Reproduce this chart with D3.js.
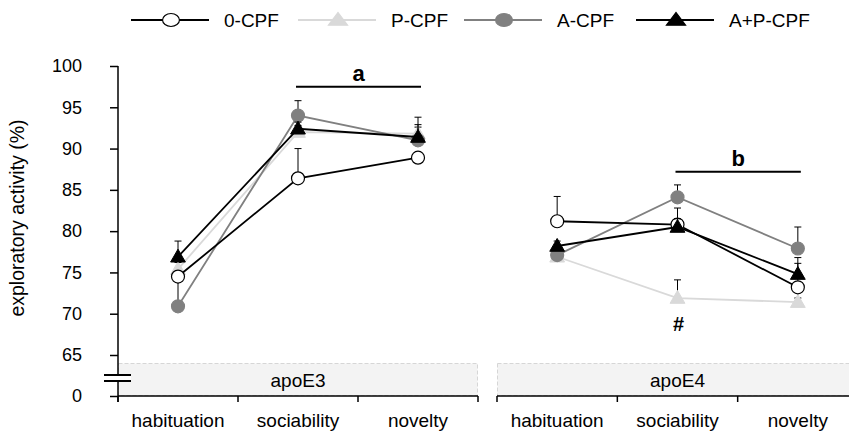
<!DOCTYPE html>
<html>
<head>
<meta charset="utf-8">
<script src="https://cdnjs.cloudflare.com/ajax/libs/d3/7.8.5/d3.min.js"></script>
<style>
  body { margin: 0; background: #fff; }
  svg { display: block; font-family: "Liberation Sans", Arial, sans-serif; }
</style>
</head>
<body>
<svg id="chart" width="849" height="434"></svg>
<script>
const WIDTH = 849, HEIGHT = 434;

// ---- data ----
var phases = ["habituation", "sociability", "novelty"];
var genotypes = ["apoE3", "apoE4"];
var groups = ["0-CPF", "P-CPF", "A-CPF", "A+P-CPF"];
var yTicks = [65, 70, 75, 80, 85, 90, 95, 100];

// mean values per group, [apoE3 x 3 phases, apoE4 x 3 phases]
var meanZero = [[74.5, 86.4, 88.9], [81.2, 80.8, 73.2]];
var meanP    = [[75.4, 92.0, 91.8], [76.9, 71.9, 71.4]];
var meanA    = [[70.9, 94.0, 91.0], [77.1, 84.1, 77.9]];
var meanAP   = [[76.9, 92.4, 91.4], [78.2, 80.5, 74.8]];

// upper error (SEM)
var semZero = [[0.5, 3.6, 0.6], [3.0, 2.0, 2.9]];
var semP    = [[0.8, 0.8, 0.8], [0.5, 2.2, 0.5]];
var semA    = [[3.2, 1.8, 1.9], [0.6, 1.5, 2.6]];
var semAP   = [[1.9, 0.8, 2.4], [0.6, 1.0, 2.0]];

var sigLetters = ["a", "b"];

// ---- styles ----
var styles = {
  "0-CPF":   { line: "#000000", fill: "#ffffff", stroke: "#000000", shape: "circle" },
  "P-CPF":   { line: "#d9d9d9", fill: "#d9d9d9", stroke: "#d9d9d9", shape: "triangle" },
  "A-CPF":   { line: "#808080", fill: "#808080", stroke: "#808080", shape: "circle" },
  "A+P-CPF": { line: "#000000", fill: "#000000", stroke: "#000000", shape: "triangle" }
};
var means = { "0-CPF": meanZero, "P-CPF": meanP, "A-CPF": meanA, "A+P-CPF": meanAP };
var sems  = { "0-CPF": semZero,  "P-CPF": semP,  "A-CPF": semA,  "A+P-CPF": semAP };
var drawOrder = ["P-CPF", "A-CPF", "0-CPF", "A+P-CPF"];

var svg = d3.select("#chart");

// ---- scales ----
var y = d3.scaleLinear().domain([65, 100]).range([355, 66]);
var yLow = d3.scaleLinear().domain([0, 1]).range([396, 386]);
var xPanels = [
  d3.scaleBand().domain(phases).range([118, 478]),
  d3.scaleBand().domain(phases).range([497, 858])
];
function cx(p, phase) { return xPanels[p](phase) + xPanels[p].bandwidth() / 2; }

// ---- genotype bands ----
genotypes.forEach(function(g, p) {
  var r = xPanels[p].range();
  svg.append("rect")
    .attr("x", r[0] + 0.5).attr("y", 363.5)
    .attr("width", r[1] - r[0] - 1).attr("height", 32)
    .attr("fill", "#f3f3f3")
    .attr("stroke", "#d6d6d6")
    .attr("stroke-dasharray", "4,2");
  svg.append("text")
    .attr("x", (r[0] + r[1]) / 2).attr("y", 387)
    .attr("text-anchor", "middle")
    .attr("font-size", 19)
    .text(g);
});

// ---- x axes ----
xPanels.forEach(function(sc, p) {
  var r = sc.range();
  var g = svg.append("g").attr("transform", "translate(0,396)");
  g.append("line")
    .attr("x1", r[0]).attr("x2", Math.min(r[1], WIDTH + 5))
    .attr("stroke", "#000").attr("stroke-width", 1.5);
  var ticks = phases.map(function(ph) { return sc(ph); }).concat([r[1]]);
  g.selectAll(".xt").data(ticks).enter().append("line")
    .attr("x1", function(d) { return d; }).attr("x2", function(d) { return d; })
    .attr("y1", 0).attr("y2", 6)
    .attr("stroke", "#000").attr("stroke-width", 1.5);
  g.selectAll(".xl").data(phases).enter().append("text")
    .attr("x", function(d) { return cx(p, d); })
    .attr("y", 31)
    .attr("text-anchor", "middle")
    .attr("font-size", 19)
    .text(function(d) { return d; });
});

// ---- y axis (broken) ----
var yAxis = d3.axisLeft(y).tickValues(yTicks).tickSize(8).tickSizeOuter(0).tickPadding(28);
var ya = svg.append("g").attr("transform", "translate(118,0)").call(yAxis);
ya.select(".domain").remove();
var yaLow = svg.append("g").attr("transform", "translate(118,0)")
  .call(d3.axisLeft(yLow).tickValues([0]).tickFormat(d3.format("d"))
    .tickSize(8).tickSizeOuter(0).tickPadding(28));
yaLow.select(".domain").remove();
svg.selectAll(".tick text").attr("font-size", 18).attr("font-family", "Liberation Sans, Arial, sans-serif").attr("fill", "#000");
svg.selectAll(".tick line").attr("stroke-width", 1.5);

svg.append("line").attr("x1", 118).attr("x2", 118).attr("y1", 66).attr("y2", 402)
  .attr("stroke", "#000").attr("stroke-width", 1.5);
// break marks
svg.append("rect").attr("x", 104).attr("y", 375).attr("width", 27).attr("height", 6).attr("fill", "#fff");
[375, 381].forEach(function(yy) {
  svg.append("line").attr("x1", 104).attr("x2", 131).attr("y1", yy).attr("y2", yy)
    .attr("stroke", "#000").attr("stroke-width", 2);
});

svg.append("text")
  .attr("transform", "translate(24,218) rotate(-90)")
  .attr("text-anchor", "middle")
  .attr("font-size", 19.5)
  .text("exploratory activity (%)");

// ---- significance markers ----
var sigSpans = [[0, "sociability", "novelty", 86.7 ], [1, "sociability", "novelty", 171.7]];
sigSpans.forEach(function(s, i) {
  var x1 = cx(s[0], s[1]) - 2, x2 = cx(s[0], s[2]) + 3;
  svg.append("line").attr("x1", x1).attr("x2", x2).attr("y1", s[3]).attr("y2", s[3])
    .attr("stroke", "#000").attr("stroke-width", 2);
  svg.append("text")
    .attr("x", (x1 + x2) / 2).attr("y", s[3] - 6)
    .attr("text-anchor", "middle")
    .attr("font-size", 22).attr("font-weight", "bold")
    .text(sigLetters[i]);
});
svg.append("text")
  .attr("x", cx(1, "sociability") + 1).attr("y", 331)
  .attr("text-anchor", "middle")
  .attr("font-size", 20).attr("font-weight", "bold")
  .text("#");

// ---- series ----
var triangle = d3.symbol().type(d3.symbolTriangle).size(95);

function drawMarker(sel, name, x0, y0, sx) {
  var st = styles[name];
  if (st.shape === "circle") {
    sel.append("ellipse")
      .attr("cx", x0).attr("cy", y0).attr("rx", 6.5 * sx).attr("ry", 6.5)
      .attr("fill", st.fill).attr("stroke", st.stroke).attr("stroke-width", 1.2);
  } else {
    sel.append("path")
      .attr("d", triangle())
      .attr("transform", "translate(" + x0 + "," + (y0 + 1) + ") scale(" + sx + ",1)")
      .attr("fill", st.fill).attr("stroke", st.stroke).attr("stroke-width", 1);
  }
}

drawOrder.forEach(function(name) {
  var st = styles[name];
  var g = svg.append("g");
  [0, 1].forEach(function(p) {
    var pts = phases.map(function(ph, i) {
      return { x: cx(p, ph), y: y(means[name][p][i]), top: y(means[name][p][i] + sems[name][p][i]) };
    });
    g.append("path")
      .datum(pts)
      .attr("d", d3.line().x(function(d) { return d.x; }).y(function(d) { return d.y; }))
      .attr("fill", "none")
      .attr("stroke", st.line)
      .attr("stroke-width", 1.8);
    pts.forEach(function(d) {
      g.append("line").attr("x1", d.x).attr("x2", d.x).attr("y1", d.y).attr("y2", d.top)
        .attr("stroke", "#000").attr("stroke-width", 1);
      g.append("line").attr("x1", d.x - 3.5).attr("x2", d.x + 3.5).attr("y1", d.top).attr("y2", d.top)
        .attr("stroke", "#000").attr("stroke-width", 1);
    });
    pts.forEach(function(d) { drawMarker(g, name, d.x, d.y, 1); });
  });
});

// ---- legend ----
var legendX = [131, 298, 464, 636];
groups.forEach(function(name, i) {
  var st = styles[name];
  var g = svg.append("g").attr("transform", "translate(" + legendX[i] + ",20)");
  g.append("line").attr("x1", 0).attr("x2", 78).attr("y1", 0).attr("y2", 0)
    .attr("stroke", st.line).attr("stroke-width", 2);
  drawMarker(g, name, 40, 0, 1.3);
  g.append("text").attr("x", 93).attr("y", 7)
    .attr("font-size", 19)
    .text(name);
});
</script>
</body>
</html>
